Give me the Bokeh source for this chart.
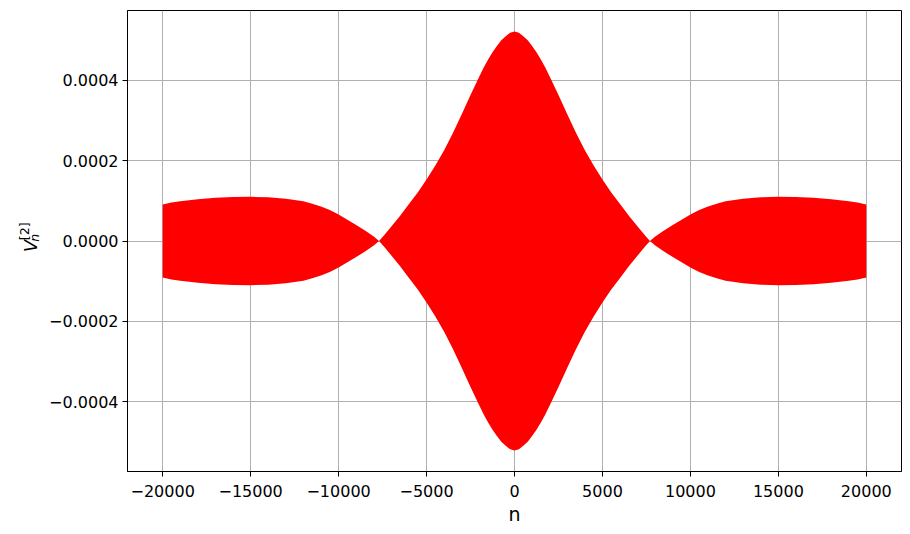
import math
from bokeh.plotting import figure
from bokeh.models import Range1d, FixedTicker
from bokeh.layouts import row
from bokeh.core.properties import value
from bokeh.embed import file_html
from bokeh.resources import INLINE

# Envelope of the (densely oscillating) signal V_n^[2]
n_vals = [-20000, -19500, -19000, -18000, -17000, -16000, -15000, -14000, -13000,
          -12000, -11500, -11000, -10500, -10000, -9500, -9000, -8500, -8000, -7700,
          -7400, -7000, -6500, -6000, -5500, -5000, -4500, -4000, -3500, -3000,
          -2500, -2000, -1750, -1500, -1250, -1000, -750, -500, -250, 0,
          250, 500, 750, 1000, 1250, 1500, 1750, 2000, 2500, 3000, 3500, 4000, 4500,
          5000, 5500, 6000, 6500, 7000, 7400, 7700, 8000, 8500, 9000, 9500, 10000,
          10500, 11000, 11500, 12000, 13000, 14000, 15000, 16000, 17000, 18000,
          19000, 19500, 20000]
upper = [9.1e-5, 9.6e-5, 9.9e-5, 1.04e-4, 1.075e-4, 1.095e-4, 1.10e-4, 1.09e-4, 1.055e-4,
         9.9e-5, 9.3e-5, 8.6e-5, 7.7e-5, 6.6e-5, 5.3e-5, 4.0e-5, 2.6e-5, 1.1e-5, 0.0,
         1.5e-5, 3.6e-5, 6.3e-5, 9.2e-5, 1.21e-4, 1.53e-4, 1.88e-4, 2.26e-4, 2.69e-4, 3.16e-4,
         3.64e-4, 4.10e-4, 4.32e-4, 4.52e-4, 4.70e-4, 4.86e-4, 5.00e-4, 5.10e-4, 5.19e-4, 5.22e-4,
         5.19e-4, 5.10e-4, 5.00e-4, 4.86e-4, 4.70e-4, 4.52e-4, 4.32e-4, 4.10e-4, 3.64e-4, 3.16e-4,
         2.69e-4, 2.26e-4, 1.88e-4,
         1.53e-4, 1.21e-4, 9.2e-5, 6.3e-5, 3.6e-5, 1.5e-5, 0.0, 1.1e-5, 2.6e-5, 4.0e-5, 5.3e-5, 6.6e-5,
         7.7e-5, 8.6e-5, 9.3e-5, 9.9e-5, 1.055e-4, 1.09e-4, 1.10e-4, 1.095e-4, 1.075e-4, 1.04e-4,
         9.9e-5, 9.6e-5, 9.1e-5]
lower = [-v for v in upper]

x_ticks = [-20000, -15000, -10000, -5000, 0, 5000, 10000, 15000, 20000]
x_labels = ["\u221220000", "\u221215000", "\u221210000", "\u22125000", "0",
            "5000", "10000", "15000", "20000"]
y_ticks = [-0.0004, -0.0002, 0.0, 0.0002, 0.0004]
y_labels = ["\u22120.0004", "\u22120.0002", "0.0000", "0.0002", "0.0004"]

FONT = "DejaVu Sans"
W, H = 910, 534
LABEL_W = 46

# ---- main plot ----
p = figure(width=W - LABEL_W, height=H, output_backend="svg", toolbar_location=None,
           x_range=Range1d(-22000, 22000), y_range=Range1d(-5.742e-4, 5.742e-4),
           min_border_left=126 - LABEL_W, min_border_right=9,
           min_border_top=10, min_border_bottom=63)
p.background_fill_color = "white"
p.border_fill_color = "white"
p.outline_line_color = "black"
p.outline_line_width = 1

p.varea(x=n_vals, y1=lower, y2=upper, fill_color="#ff0000", fill_alpha=1.0)

for ax in (p.xaxis[0], p.yaxis[0]):
    ax.major_tick_out = 5
    ax.major_tick_in = 0
    ax.minor_tick_out = 0
    ax.minor_tick_in = 0
    ax.axis_line_color = "black"
    ax.major_tick_line_color = "black"
    ax.major_label_text_font = FONT
    ax.major_label_text_font_size = "16px"
    ax.major_label_text_color = "black"
p.yaxis.major_label_standoff = 4
p.xaxis.major_label_standoff = 8

p.xaxis.ticker = FixedTicker(ticks=x_ticks)
p.xaxis.major_label_overrides = {t: l for t, l in zip(x_ticks, x_labels)}
p.yaxis.ticker = FixedTicker(ticks=y_ticks)
p.yaxis.major_label_overrides = {t: l for t, l in zip(y_ticks, y_labels)}

p.xaxis.axis_label = "n"
p.xaxis.axis_label_text_font = FONT
p.xaxis.axis_label_text_font_size = "19px"
p.xaxis.axis_label_text_font_style = "normal"
p.xaxis.axis_label_text_color = "black"
p.xaxis.axis_label_standoff = 3

p.xgrid.ticker = FixedTicker(ticks=x_ticks)
p.ygrid.ticker = FixedTicker(ticks=y_ticks)
for g in (p.xgrid[0], p.ygrid[0]):
    g.grid_line_color = "#b0b0b0"
    g.grid_line_width = 1

# ---- y-axis label V_n^[2] as real text, in a narrow side figure ----
# side figure: data units = pixels, y measured from the bottom of the canvas
lab = figure(width=LABEL_W, height=H, output_backend="svg", toolbar_location=None,
             x_range=Range1d(0, LABEL_W), y_range=Range1d(0, H),
             x_axis_location=None, y_axis_location=None,
             min_border_left=0, min_border_right=0, min_border_top=0, min_border_bottom=0)
lab.outline_line_color = None
lab.background_fill_color = "white"
lab.border_fill_color = "white"
lab.grid.visible = False
ang = math.pi / 2
common = dict(angle=ang, text_font=value(FONT), text_color="black",
              text_align="left", text_baseline="alphabetic")
lab.text(x=[30], y=[H - 280], text=["V"], text_font_size="18px",
         text_font_style="italic", **common)
lab.text(x=[34], y=[H - 268], text=["n"], text_font_size="12.5px",
         text_font_style="italic", **common)
lab.text(x=[24], y=[H - 266], text=["[2]"], text_font_size="12.5px",
         text_font_style="normal", **common)

layout = row(lab, p, spacing=0)
open("out.html", "w").write(file_html(layout, INLINE))
